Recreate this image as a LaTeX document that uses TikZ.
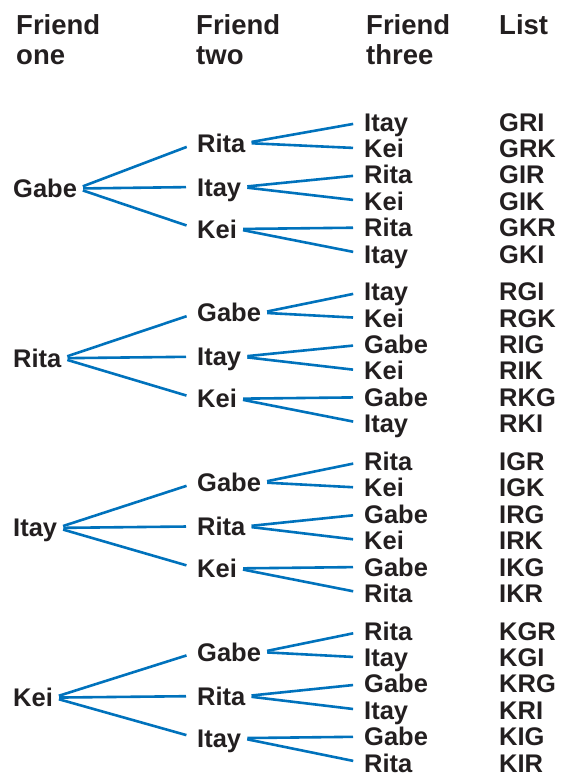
\documentclass[tikz,border=0pt]{standalone}
\usepackage{fontspec}
\setmainfont{Liberation Sans}
\usepackage{xcolor}
\definecolor{branch}{RGB}{0,114,188}
\definecolor{ink}{RGB}{35,31,32}

\begin{document}
\begin{tikzpicture}[
  x=1pt, y=-1pt,
  every node/.style={font=\bfseries\fontsize{25.5}{30}\selectfont, text=ink},
  who/.style={anchor=west, inner sep=0pt, text height=18pt, text depth=0pt},
  head/.style={anchor=base west, align=left, inner sep=0pt,
               font=\bfseries\fontsize{27.5}{30}\selectfont},
  edge/.style={draw=branch, line width=2.6pt, shorten <=6pt, shorten >=11pt},
]
\useasboundingbox (0,0) rectangle (560,776);

% column heads (base is the last line)
\node[head] (h1) at (16,65)  {Friend\\one};
\node[head] (h2) at (196,65) {Friend\\two};
\node[head] (h3) at (366,65) {Friend\\three};
\node[head] (h4) at (499,35) {List};

% friend one and friend two
\foreach \g/\f/\sa/\sb/\sc in {1/Gabe/Rita/Itay/Kei, 2/Rita/Gabe/Itay/Kei,
                               3/Itay/Gabe/Rita/Kei, 4/Kei/Gabe/Rita/Itay}{
  \pgfmathsetmacro\r{122+169.7*(\g-1)}
  \node[who] (f\g)   at (13,\r+66.5) {\f};
  \node[who] (s\g-1) at (197,\r+21)  {\sa};
  \node[who] (s\g-2) at (197,\r+65)  {\sb};
  \node[who] (s\g-3) at (197,\r+107) {\sc};
  \foreach \k in {1,2,3}
    \draw[edge] (f\g.east) -- (s\g-\k.west);
}

% friend three and the list
\foreach \g/\i/\t/\l in {1/0/Itay/GRI, 1/1/Kei/GRK, 1/2/Rita/GIR,
                         1/3/Kei/GIK, 1/4/Rita/GKR, 1/5/Itay/GKI,
                         2/0/Itay/RGI, 2/1/Kei/RGK, 2/2/Gabe/RIG,
                         2/3/Kei/RIK, 2/4/Gabe/RKG, 2/5/Itay/RKI,
                         3/0/Rita/IGR, 3/1/Kei/IGK, 3/2/Gabe/IRG,
                         3/3/Kei/IRK, 3/4/Gabe/IKG, 3/5/Rita/IKR,
                         4/0/Rita/KGR, 4/1/Itay/KGI, 4/2/Gabe/KRG,
                         4/3/Itay/KRI, 4/4/Gabe/KIG, 4/5/Rita/KIR}{
  \pgfmathsetmacro\y{122+169.7*(\g-1)+26.4*\i}
  \pgfmathtruncatemacro\p{int(\i/2)+1}
  \node[who] (t\g-\i) at (364,\y) {\t};
  \node[who] (l\g-\i) at (499,\y) {\l};
  \draw[edge] (s\g-\p.east) -- (t\g-\i.west);
}
\end{tikzpicture}
\end{document}
